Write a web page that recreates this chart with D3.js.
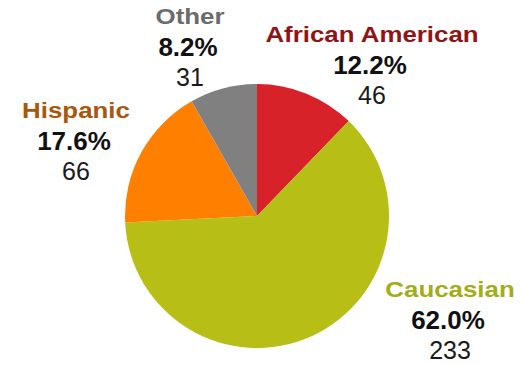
<!DOCTYPE html>
<html>
<head>
<meta charset="utf-8">
<script src="https://cdn.jsdelivr.net/npm/d3@7"></script>
<style>
  html, body { margin: 0; padding: 0; background: #fff; }
  svg { display: block; }
  text { font-family: "Liberation Sans", Arial, sans-serif; }
</style>
</head>
<body>
<svg id="chart" width="522" height="365"></svg>
<script>
// ---- data ----
const categories = ["African American", "Caucasian", "Hispanic", "Other"];
const counts = [46, 233, 66, 31];
const percentLabels = ["12.2%", "62.0%", "17.6%", "8.2%"];

// ---- styles / layout (kept separate from data) ----
const sliceColors = ["#d7222a", "#b7bf17", "#ff8000", "#808080"];
const nameColors = ["#8f1515", "#a3ad14", "#a8580e", "#6b6b6b"];
const labelPos = [
  { x: 372, y: 42 },   // African American
  { x: 450, y: 297 },  // Caucasian
  { x: 76, y: 118 },   // Hispanic
  { x: 190, y: 24 }    // Other
];

const svg = d3.select("#chart");
const cx = 257, cy = 216, r = 132;

const pie = d3.pie().sort(null).value(d => d)(counts);
const arc = d3.arc().innerRadius(0).outerRadius(r);

svg.append("g")
  .attr("transform", `translate(${cx},${cy})`)
  .selectAll("path")
  .data(pie)
  .join("path")
  .attr("d", arc)
  .attr("fill", (d, i) => sliceColors[i]);

const labels = svg.append("g")
  .selectAll("g")
  .data(categories)
  .join("g")
  .attr("transform", (d, i) => `translate(${labelPos[i].x},${labelPos[i].y})`);

labels.append("text")
  .attr("text-anchor", "middle")
  .attr("transform", "scale(1.15,1)")
  .attr("font-size", 22.5)
  .attr("font-weight", "bold")
  .attr("fill", (d, i) => nameColors[i])
  .text(d => d);

labels.append("text")
  .attr("text-anchor", "middle")
  .attr("x", -2)
  .attr("y", 32)
  .attr("font-size", 26)
  .attr("font-weight", "bold")
  .attr("fill", "#111")
  .text((d, i) => percentLabels[i]);

labels.append("text")
  .attr("text-anchor", "middle")
  .attr("y", 62)
  .attr("font-size", 25)
  .attr("fill", "#1a1a1a")
  .text((d, i) => counts[i]);
</script>
</body>
</html>
